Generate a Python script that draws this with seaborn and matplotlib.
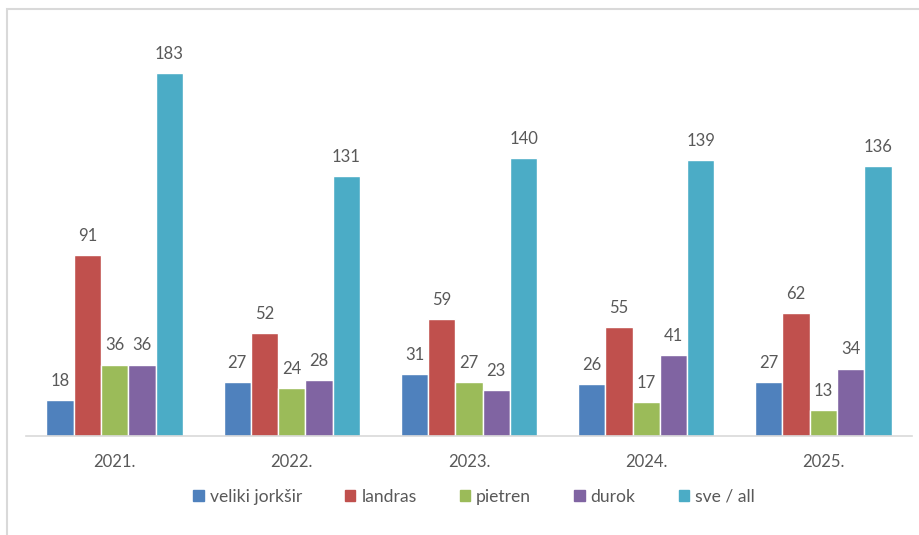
import matplotlib
matplotlib.use("Agg")
import matplotlib.pyplot as plt
import seaborn as sns
import pandas as pd
from matplotlib.patches import Rectangle

# data
years = ["2021.", "2022.", "2023.", "2024.", "2025."]
series = ["veliki jorkšir", "landras", "pietren", "durok", "sve / all"]
veliki_jorksir = [18, 27, 31, 26, 27]
landras = [91, 52, 59, 55, 62]
pietren = [36, 24, 27, 17, 13]
durok = [36, 28, 23, 41, 34]
sve_all = [183, 131, 140, 139, 136]
colors = ["#4F81BD", "#C0504D", "#9BBB59", "#8064A2", "#4BACC6"]

values = [veliki_jorksir, landras, pietren, durok, sve_all]
rows = []
for name, vals in zip(series, values):
    for y, v in zip(years, vals):
        rows.append({"year": y, "series": name, "value": v})
df = pd.DataFrame(rows)

sns.set_style("white")
plt.rcParams["font.family"] = ["Lato", "DejaVu Sans"]
text_color = "#595959"

fig = plt.figure(figsize=(9.19, 5.35), dpi=100)
ax = fig.add_axes([26 / 919, 1 - 436 / 535, 886 / 919, 397 / 535])

sns.barplot(data=df, x="year", y="value", hue="series", palette=colors,
            width=0.77, gap=0, saturation=1, ax=ax, legend=False)

for cont in ax.containers:
    ax.bar_label(cont, padding=8, fontsize=12, color=text_color)

ax.set_ylim(0, 200)
ax.set_xlim(-0.5, 4.5)
ax.set_xlabel("")
ax.set_ylabel("")
ax.set_yticks([])
for s in ["top", "right", "left"]:
    ax.spines[s].set_visible(False)
ax.spines["bottom"].set_color("#D9D9D9")
ax.spines["bottom"].set_linewidth(1.2)
ax.tick_params(axis="x", which="major", length=0, pad=13, labelsize=12,
               labelcolor=text_color)
ax.set_xticks([i - 0.5 for i in range(6)], minor=True)
ax.tick_params(axis="x", which="minor", length=4, color="#D9D9D9", width=1.2)

handles = [Rectangle((0, 0), 1, 1, color=c) for c in colors]
fig.legend(handles, series, loc="center", bbox_to_anchor=(474 / 919, 1 - 497 / 535),
           ncol=5, frameon=False, fontsize=12.6, handlelength=0.6, handleheight=0.6,
           handletextpad=0.35, columnspacing=2.45, labelcolor=text_color)

# outer chart frame
fig.patches.append(Rectangle((7 / 919, -0.1), 1.0, 1 - 9 / 535 + 0.1,
                             transform=fig.transFigure, fill=False,
                             edgecolor="#D9D9D9", linewidth=1.5))

fig.savefig("out.png", dpi=100)
